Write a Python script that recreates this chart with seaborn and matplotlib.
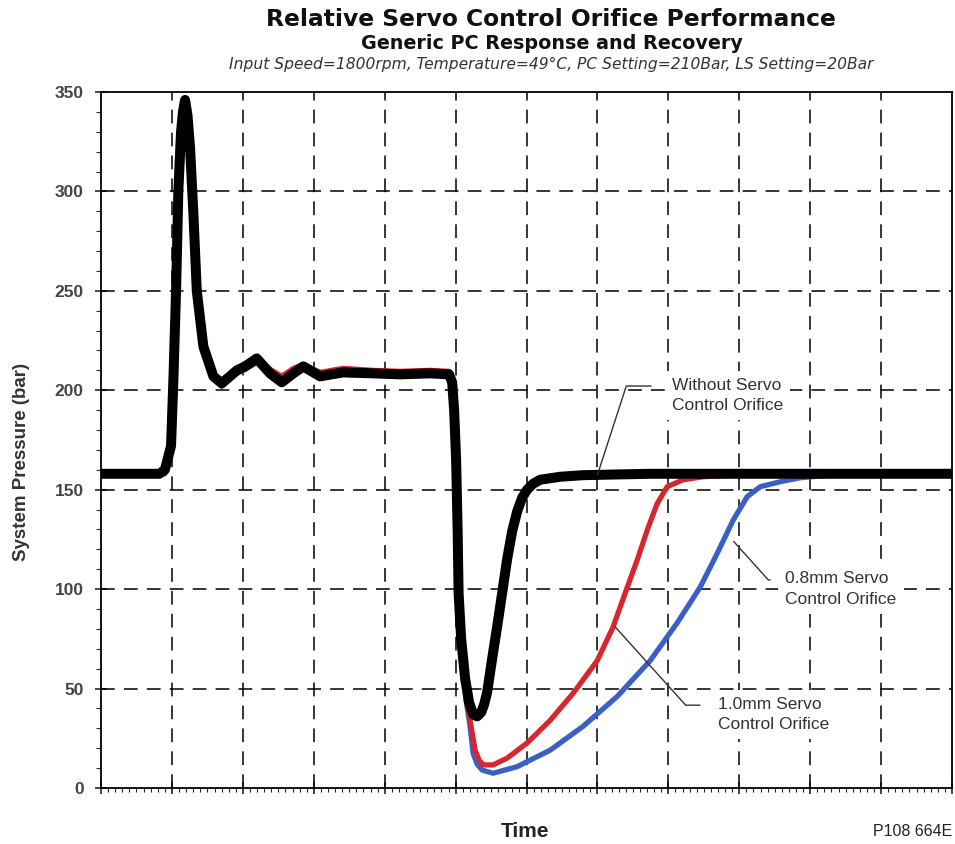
import numpy as np
import pandas as pd
import matplotlib
matplotlib.use("Agg")
import matplotlib.pyplot as plt
from matplotlib.ticker import MultipleLocator
import seaborn as sns

# ---------------- data (time in grid units, pressure in bar) ----------------
black_t = [0.00, 0.820, 0.900, 0.987, 1.020, 1.058, 1.090, 1.128, 1.155, 1.185, 1.220, 1.255,
           1.302, 1.350, 1.443, 1.584, 1.702, 1.914, 2.031, 2.196, 2.384, 2.549,
           2.712, 2.853, 3.089, 3.413, 3.836, 4.217, 4.640, 4.908, 4.951, 4.979,
           5.007, 5.028, 5.042, 5.078, 5.134, 5.190, 5.247, 5.303, 5.360, 5.402,
           5.444, 5.515, 5.585, 5.656, 5.726, 5.797, 5.867, 5.938, 6.008, 6.093,
           6.192, 6.474, 6.798, 7.743, 12.0]
black_p = [158, 158, 160, 172, 205, 250, 300, 330, 340, 346, 338, 322,
           289, 250, 222, 207, 203.5, 210, 212, 216, 208.5, 204,
           208.5, 212, 207, 209, 208.5, 208, 208.5, 208, 204, 190,
           165, 130, 98, 75, 55, 43, 37, 36, 38, 42,
           48, 65, 81, 98, 115, 129, 139, 146, 150, 153,
           155, 156.5, 157.3, 158, 158]

red_t = [0.00, 0.900, 1.000, 1.030, 1.062, 1.092, 1.128, 1.155, 1.185, 1.220, 1.255,
         1.302, 1.350, 1.443, 1.584, 1.702, 1.914, 2.031, 2.196, 2.384, 2.549,
         2.712, 2.853, 3.089, 3.413, 3.836, 4.217, 4.640, 4.908, 4.951, 4.979,
         5.007, 5.028, 5.042, 5.078, 5.148, 5.204, 5.275, 5.331, 5.388, 5.529,
         5.726, 6.008, 6.333, 6.657, 6.996, 7.221, 7.391, 7.560, 7.715, 7.842,
         7.983, 8.209, 8.491, 9.013, 12.0]
red_p = [158, 158, 172, 205, 250, 300, 330, 340, 345, 338, 322,
         289, 250, 222, 208, 205, 210, 212, 215, 210.5, 207,
         211, 213, 209, 211, 210, 209.5, 210, 209.5, 204, 190,
         165, 130, 98, 75, 45, 34, 19, 14, 11.6, 11.6,
         15, 22.6, 34, 47.6, 64, 81, 98, 114.6, 131, 143,
         151.5, 155, 156.5, 157.5, 158]

blue_t = [0.00, 0.820, 0.900, 0.987, 1.020, 1.058, 1.090, 1.128, 1.155, 1.185, 1.220, 1.255,
          1.302, 1.350, 1.443, 1.584, 1.702, 1.914, 2.031, 2.196, 2.384, 2.549,
          2.712, 2.853, 3.089, 3.413, 3.836, 4.217, 4.640, 4.908, 4.951, 4.979,
          5.007, 5.028, 5.042, 5.078, 5.148, 5.204, 5.247, 5.303, 5.374, 5.529,
          5.867, 6.333, 6.798, 7.278, 7.743, 8.124, 8.449, 8.689, 8.914, 9.112,
          9.295, 9.577, 9.859, 10.282, 12.0]
blue_p = [158, 158, 160, 172, 205, 250, 300, 330, 340, 346, 338, 322,
          289, 250, 222, 206, 202, 208.5, 210.5, 214, 207, 203,
          207.5, 210.5, 206, 208, 207.5, 207.5, 208, 207.5, 204, 190,
          165, 130, 98, 75, 44, 31, 17.4, 12, 9, 7.4,
          10.7, 19, 31, 46, 64, 83, 101, 118, 134.7, 146.5,
          151.5, 154, 156, 157.3, 158]

y_ticks = [0, 50, 100, 150, 200, 250, 300, 350]

title = "Relative Servo Control Orifice Performance"
subtitle = "Generic PC Response and Recovery"
conditions = "Input Speed=1800rpm, Temperature=49°C, PC Setting=210Bar, LS Setting=20Bar"
labels = ["Without Servo\nControl Orifice", "0.8mm Servo\nControl Orifice",
          "1.0mm Servo\nControl Orifice"]

# ---------------- styling ----------------
sns.set_theme(style="white")
plt.rcParams["font.family"] = ["Liberation Sans", "DejaVu Sans"]

fig = plt.figure(figsize=(9.55, 8.44), dpi=100)
ax = fig.add_axes([0.1058, 0.0664, 0.8911, 0.8246])

df_b = pd.DataFrame({"t": blue_t, "p": blue_p})
df_r = pd.DataFrame({"t": red_t, "p": red_p})
df_k = pd.DataFrame({"t": black_t, "p": black_p})

sns.lineplot(data=df_b, x="t", y="p", ax=ax, color="#3b5fc6", lw=3.8,
             sort=False, estimator=None, zorder=3, solid_joinstyle="round")
sns.lineplot(data=df_r, x="t", y="p", ax=ax, color="#d7262d", lw=3.8,
             sort=False, estimator=None, zorder=4, solid_joinstyle="round")
sns.lineplot(data=df_k, x="t", y="p", ax=ax, color="black", lw=7.2,
             sort=False, estimator=None, zorder=5, solid_joinstyle="round",
             solid_capstyle="round")

ax.set_xlim(0, 12)
ax.set_ylim(0, 350)

# grid
for gx in range(1, 12):
    ax.axvline(gx, color="black", lw=1.1, ls=(0, (9, 6)), zorder=1)
for gy in y_ticks[1:-1]:
    ax.axhline(gy, color="black", lw=1.1, ls=(0, (9, 6)), zorder=1)

# ticks
ax.xaxis.set_major_locator(MultipleLocator(1))
ax.xaxis.set_minor_locator(MultipleLocator(0.1))
ax.set_xticklabels([])
ax.set_yticks(y_ticks)
ax.yaxis.set_minor_locator(MultipleLocator(10))
ax.tick_params(axis="x", which="major", direction="inout", length=8, width=1.2,
               bottom=True, top=False)
ax.tick_params(axis="x", which="minor", direction="out", length=3, width=0.8,
               bottom=True, top=False)
ax.tick_params(axis="y", which="major", direction="inout", length=9, width=1.2,
               left=True, right=False, labelsize=12.5, labelcolor="#444444", pad=8)
ax.tick_params(axis="y", which="minor", direction="out", length=3.5, width=0.8,
               left=True, right=False)
for lab in ax.get_yticklabels():
    lab.set_fontweight("bold")

for s in ax.spines.values():
    s.set_color("black")
    s.set_linewidth(1.3)

ax.set_xlabel("")
ax.set_ylabel("System Pressure (bar)", fontsize=13.5, fontweight="bold",
              color="#333333")
ax.yaxis.set_label_coords(-0.083, 0.468)

# titles
fig.text(0.577, 0.990, title, ha="center", va="top", fontsize=16.8,
         fontweight="bold", family=["DejaVu Sans"], color="#111111")
fig.text(0.578, 0.960, subtitle, ha="center", va="top", fontsize=13.8,
         fontweight="bold", family=["DejaVu Sans"], color="#111111")
fig.text(0.577, 0.932, conditions, ha="center", va="top", fontsize=11.2,
         style="italic", family=["DejaVu Sans"], color="#333333")

fig.text(0.550, 0.0040, "Time", ha="center", va="bottom", fontsize=15,
         fontweight="bold", color="#222222")
fig.text(0.997, 0.0065, "P108 664E", ha="right", va="bottom", fontsize=11.5,
         color="#222222")

# annotations
box = dict(facecolor="white", edgecolor="none", pad=5)
afs = 12.5
common = dict(fontsize=afs, ha="left", va="center", color="#333333", bbox=box,
              zorder=6, linespacing=1.45)
ax.annotate(labels[0], xy=(7.0, 157.5), xytext=(8.05, 197.5), **common,
            arrowprops=dict(arrowstyle="-", color="#333333", lw=1.0,
                            connectionstyle="angle,angleA=0,angleB=72,rad=0",
                            relpos=(0, 0.76), shrinkA=10, shrinkB=0))
ax.annotate(labels[1], xy=(8.92, 124), xytext=(9.65, 100), **common,
            arrowprops=dict(arrowstyle="-", color="#333333", lw=1.0,
                            connectionstyle="angle,angleA=0,angleB=-48,rad=0",
                            relpos=(0, 0.76), shrinkA=6, shrinkB=0))
ax.annotate(labels[2], xy=(7.25, 81), xytext=(8.7, 37), **common,
            arrowprops=dict(arrowstyle="-", color="#333333", lw=1.0,
                            connectionstyle="angle,angleA=0,angleB=-48,rad=0",
                            relpos=(0, 0.76), shrinkA=8, shrinkB=0))

fig.savefig("out.png", dpi=100)
